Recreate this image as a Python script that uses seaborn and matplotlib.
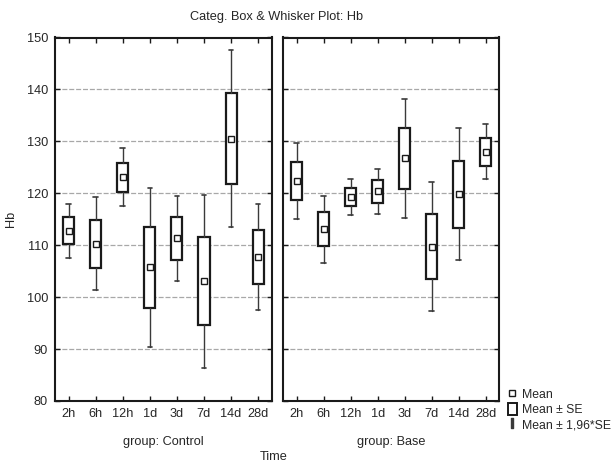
import matplotlib
matplotlib.use("Agg")
import matplotlib.pyplot as plt
from matplotlib.lines import Line2D
from matplotlib.patches import Rectangle
import seaborn as sns
import pandas as pd
import numpy as np

times = ["2h", "6h", "12h", "1d", "3d", "7d", "14d", "28d"]
control_mean = [112.8, 110.3, 123.05, 105.75, 111.3, 103.1, 130.55, 107.7]
control_se = [2.65, 4.6, 2.85, 7.8, 4.2, 8.5, 8.7, 5.2]
base_mean = [122.35, 113.1, 119.3, 120.4, 126.7, 109.75, 119.85, 128.0]
base_se = [3.7, 3.3, 1.8, 2.2, 5.8, 6.3, 6.45, 2.7]
groups = ["Control", "Base"]

sns.set_style("white")
plt.rcParams["font.family"] = ["Liberation Sans", "DejaVu Sans"]
FS = 9.2

W, H = 613, 463
fig = plt.figure(figsize=(W / 100, H / 100), dpi=100)
top, bot = 37.5, 401.0
AH = bot - top
ax1 = fig.add_axes([55 / W, 1 - bot / H, 216.7 / W, AH / H])
ax2 = fig.add_axes([283.3 / W, 1 - bot / H, 215.7 / W, AH / H])

for ax, g, means, ses in [(ax1, "Control", control_mean, control_se),
                          (ax2, "Base", base_mean, base_se)]:
    df = pd.DataFrame({"Time": times, "Hb": means, "SE": ses})
    stats = []
    for m, s in zip(means, ses):
        stats.append(dict(med=m, q1=m - s, q3=m + s,
                          whislo=m - 1.96 * s, whishi=m + 1.96 * s, fliers=[]))
    ax.bxp(stats, positions=np.arange(len(times)), widths=0.41, capwidths=0.17,
           patch_artist=True, showfliers=False, manage_ticks=False,
           boxprops=dict(facecolor="white", edgecolor="#1a1a1a", linewidth=1.6),
           whiskerprops=dict(color="#3a3a3a", linewidth=1.0),
           capprops=dict(color="#3a3a3a", linewidth=1.2),
           medianprops=dict(linewidth=0))
    sns.pointplot(data=df, x="Time", y="Hb", order=times, ax=ax,
                  linestyle="none", markers="s", errorbar=None,
                  color="#1a1a1a", markersize=4.2,
                  markerfacecolor="white", markeredgewidth=1.0, zorder=5)
    ax.set_xlim(-0.5, len(times) - 0.5)
    ax.set_ylim(80, 150)
    ax.set_yticks(np.arange(80, 151, 10))
    ax.yaxis.grid(True, color="#a8a8a8", linestyle=(0, (4, 1.5)), linewidth=0.9)
    ax.xaxis.grid(False)
    ax.set_axisbelow(True)
    ax.set_xticks(np.arange(len(times)))
    ax.set_xticklabels(times, fontsize=FS)
    ax.tick_params(axis="both", direction="in", length=3.5, width=1.0,
                   color="#1a1a1a", top=True, right=True, left=True, bottom=True,
                   labelsize=FS, pad=5)
    ax.set_xlabel(f"group: {g}", fontsize=FS)
    ax.xaxis.set_label_coords(0.5, -(436 - bot) / AH)
    ax.set_ylabel("")
    for sp in ax.spines.values():
        sp.set_visible(True)
        sp.set_color("#1a1a1a")
        sp.set_linewidth(1.5)

ax2.tick_params(axis="y", labelleft=False)
ax1.set_ylabel("Hb", fontsize=FS)
ax1.yaxis.set_label_coords((17 - 55) / 216.7, 0.5)

fig.text(277 / W, 1 - 17 / H, "Categ. Box & Whisker Plot: Hb", ha="center", va="center", fontsize=FS)
fig.text(274 / W, 1 - 457 / H, "Time", ha="center", va="center", fontsize=FS)

handles = [
    Line2D([], [], linestyle="none", marker="s", markersize=4.2,
           markerfacecolor="white", markeredgecolor="#1a1a1a", markeredgewidth=1.0),
    Rectangle((0, 0), 1, 1, facecolor="white", edgecolor="#1a1a1a", linewidth=1.4),
    Line2D([], [], linestyle="none", marker="$\\mathrm{I}$", markersize=7,
           color="#3a3a3a"),
]
fig.legend(handles, ["Mean", "Mean ± SE", "Mean ± 1,96*SE"],
           loc="upper left", bbox_to_anchor=(508 / W, 1 - 388 / H),
           frameon=False, fontsize=FS - 0.4, handlelength=0.7, handleheight=1.2,
           handletextpad=0.45, labelspacing=0.12, borderpad=0, borderaxespad=0)

fig.savefig("out.png", dpi=100)
